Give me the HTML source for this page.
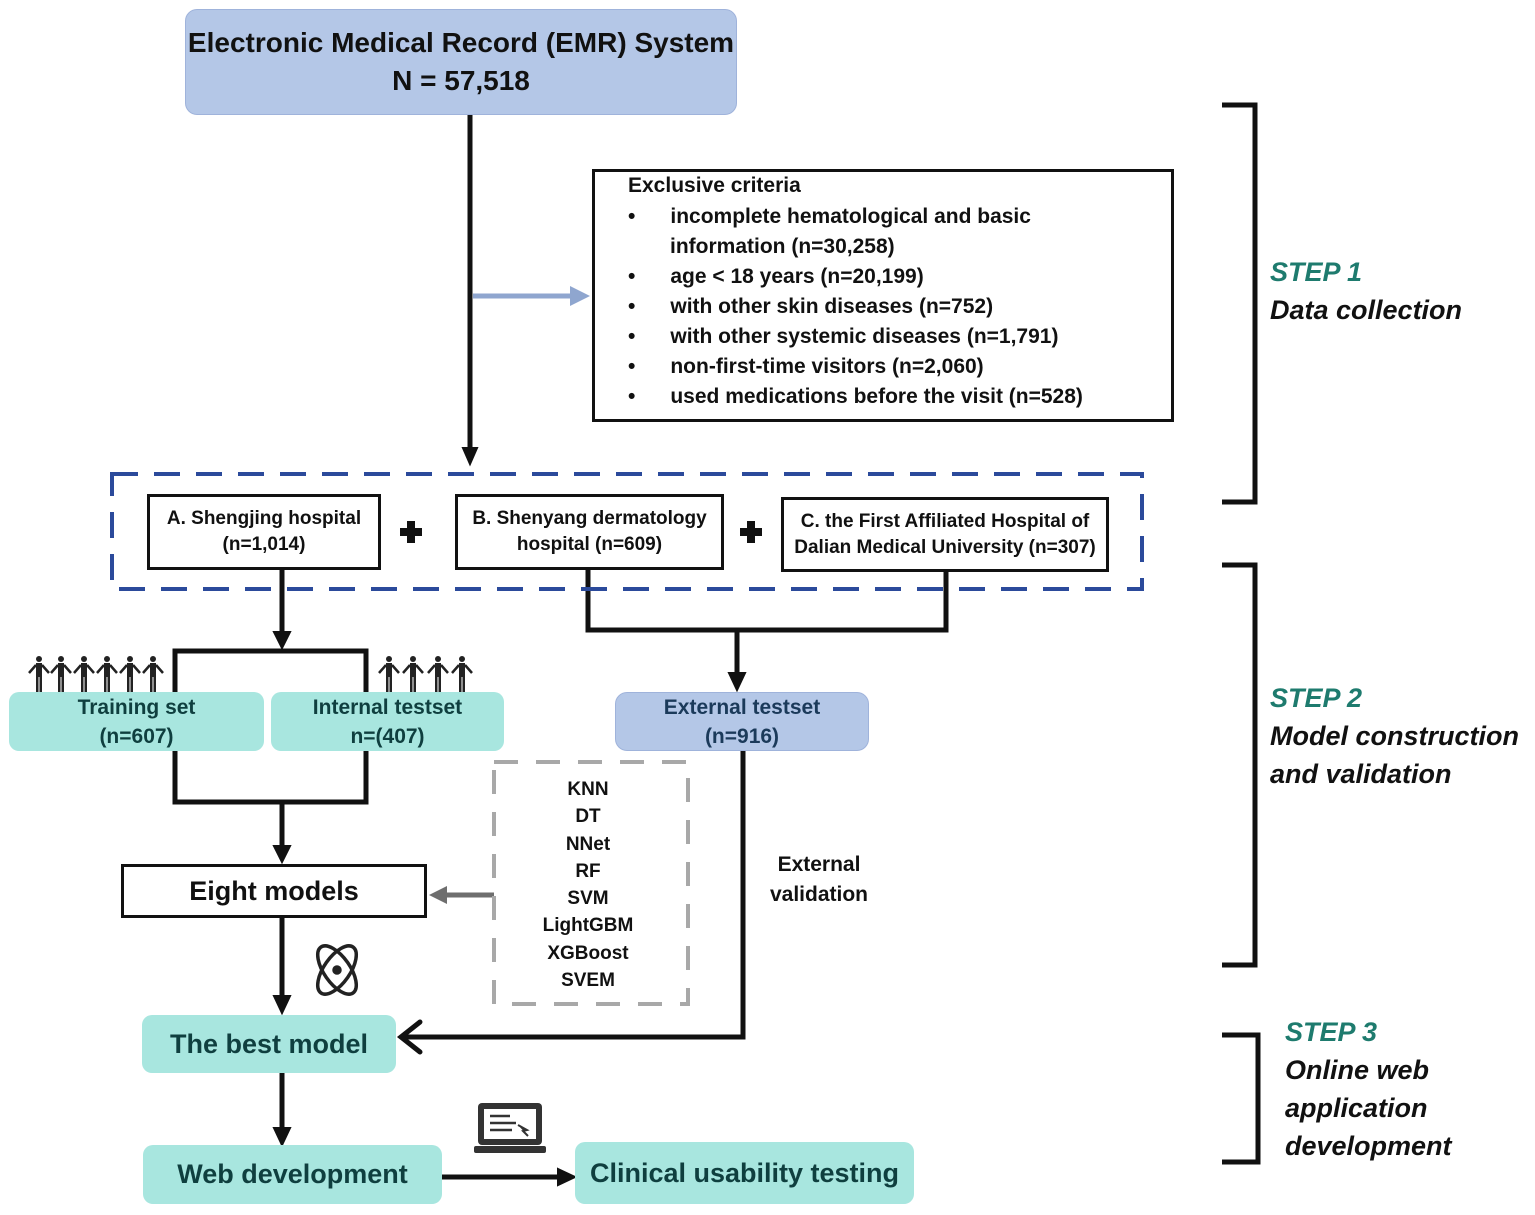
<!DOCTYPE html>
<html><head><meta charset="utf-8"><style>
body{margin:0;width:1535px;height:1215px;background:#fff;position:relative;overflow:hidden;font-family:"Liberation Sans","DejaVu Sans",sans-serif;color:#111}
.b{position:absolute;box-sizing:border-box;display:flex;flex-direction:column;align-items:center;justify-content:center;text-align:center;font-weight:bold}
.t{position:absolute;white-space:nowrap;font-weight:bold}
.teal{background:#a8e6df;border-radius:10px;color:#0f3f3f}
.blue{background:#b4c7e7;border-radius:12px;border:1px solid #9fb3db}
.blk{border:3px solid #111;background:#fff}
.step{position:absolute;color:#1e7b6e;font-style:italic;font-weight:bold;font-size:27px;line-height:38px}
.step span{color:#111}
</style></head><body>
<svg width="1535" height="1215" style="position:absolute;left:0;top:0">
<defs>
<g id="p" fill="#222" stroke="#222">
<circle cx="0" cy="0" r="3" stroke="none"/>
<rect x="-3" y="4" width="6" height="14" stroke="none"/>
<rect x="-3" y="16" width="2.5" height="17" stroke="none"/><rect x="0.5" y="16" width="2.5" height="17" stroke="none"/>
<path d="M-3,6 L-10,14 M3,6 L10,14" stroke-width="2.5" fill="none"/>
</g>
</defs>
<g stroke="#111" stroke-width="5" fill="none">
<line x1="470" y1="115" x2="470" y2="450"/>
<path d="M463,448 L470,464 L477,448z" fill="#111" stroke-width="2"/>
<line x1="282" y1="569" x2="282" y2="634"/>
<path d="M274,632 L282,648 L290,632z" fill="#111" stroke-width="2"/>
<polyline points="175,692 175,651 366,651 366,692"/>
<polyline points="588,569 588,630 946,630 946,571"/>
<line x1="737" y1="630" x2="737" y2="675"/>
<path d="M729,673 L737,690 L745,673z" fill="#111" stroke-width="2"/>
<polyline points="175,751 175,802 366,802 366,751"/>
<line x1="282" y1="802" x2="282" y2="848"/>
<path d="M274,846 L282,862 L290,846z" fill="#111" stroke-width="2"/>
<line x1="282" y1="917" x2="282" y2="998"/>
<path d="M274,996 L282,1013 L290,996z" fill="#111" stroke-width="2"/>
<line x1="282" y1="1073" x2="282" y2="1130"/>
<path d="M274,1128 L282,1145 L290,1128z" fill="#111" stroke-width="2"/>
<polyline points="743,751 743,1037 402,1037"/>
<polyline points="420,1022 401,1037 420,1052" stroke-linecap="round"/>
<line x1="442" y1="1177" x2="560" y2="1177"/>
<path d="M558,1169 L575,1177 L558,1185z" fill="#111" stroke-width="2"/>
<polyline points="1222,105 1255,105 1255,502 1222,502"/>
<polyline points="1222,565 1255,565 1255,965 1222,965"/>
<polyline points="1222,1035 1258,1035 1258,1162 1222,1162"/>
</g>
<line x1="473" y1="296" x2="572" y2="296" stroke="#8fa6cf" stroke-width="5"/>
<path d="M570,286 L590,296 L570,306z" fill="#8fa6cf"/>
<line x1="494" y1="895" x2="445" y2="895" stroke="#6e6e6e" stroke-width="5"/>
<path d="M447,886 L429,895 L447,904z" fill="#6e6e6e"/>
<rect x="112" y="474" width="1030" height="115" fill="none" stroke="#2b4a9b" stroke-width="4" stroke-dasharray="26,16"/>
<rect x="494" y="762" width="194" height="242" fill="none" stroke="#a8a8a8" stroke-width="4" stroke-dasharray="24,18"/>
<g fill="#111">
<rect x="400" y="528" width="22" height="8"/><rect x="407" y="521" width="8" height="22"/>
<rect x="740" y="528" width="22" height="8"/><rect x="747" y="521" width="8" height="22"/>
</g>
<use href="#p" x="39" y="659"/><use href="#p" x="61" y="659"/><use href="#p" x="84" y="659"/><use href="#p" x="107" y="659"/><use href="#p" x="130" y="659"/><use href="#p" x="153" y="659"/>
<use href="#p" x="389" y="659"/><use href="#p" x="413" y="659"/><use href="#p" x="438" y="659"/><use href="#p" x="462" y="659"/>
<g transform="translate(337,970)" fill="none" stroke="#222" stroke-width="3.5">
<ellipse rx="28" ry="13" transform="rotate(-55)"/><ellipse rx="28" ry="13" transform="rotate(55)"/>
<circle r="3" fill="#222"/>
</g>
<g transform="translate(474,1103)">
<rect x="4" y="0" width="64" height="42" rx="4" fill="#333"/><rect x="10" y="6" width="52" height="30" fill="#fff"/>
<path d="M16,13 H36 M16,20 H42 M16,27 H38" stroke="#333" stroke-width="2.5"/>
<path d="M44,22 L53,27 L49,28 L54,33" stroke="#333" stroke-width="2" fill="#333"/>
<rect x="0" y="43" width="72" height="7" rx="2" fill="#333"/>
</g>
</svg>

<div class="b blue" style="left:185px;top:9px;width:552px;height:106px;font-size:28px;line-height:38px"><div>Electronic Medical Record (EMR) System</div><div>N = 57,518</div></div>

<div class="b blk" style="left:592px;top:169px;width:582px;height:253px"></div>
<div class="t" style="left:628px;top:174px;font-size:21px">Exclusive criteria</div>
<div style="position:absolute;left:628px;top:202px;font-size:21px;font-weight:bold;line-height:30px;white-space:nowrap">
<div>•&nbsp;&nbsp;&nbsp;&nbsp;&nbsp;&nbsp;incomplete hematological and basic</div>
<div style="padding-left:42px">information (n=30,258)</div>
<div>•&nbsp;&nbsp;&nbsp;&nbsp;&nbsp;&nbsp;age &lt; 18 years (n=20,199)</div>
<div>•&nbsp;&nbsp;&nbsp;&nbsp;&nbsp;&nbsp;with other skin diseases (n=752)</div>
<div>•&nbsp;&nbsp;&nbsp;&nbsp;&nbsp;&nbsp;with other systemic diseases (n=1,791)</div>
<div>•&nbsp;&nbsp;&nbsp;&nbsp;&nbsp;&nbsp;non-first-time visitors (n=2,060)</div>
<div>•&nbsp;&nbsp;&nbsp;&nbsp;&nbsp;&nbsp;used medications before the visit (n=528)</div>
</div>

<div class="b blk" style="left:147px;top:494px;width:234px;height:76px;font-size:19px;line-height:26px"><div>A. Shengjing hospital</div><div>(n=1,014)</div></div>
<div class="b blk" style="left:455px;top:494px;width:269px;height:76px;font-size:19px;line-height:26px"><div>B. Shenyang dermatology</div><div>hospital (n=609)</div></div>
<div class="b blk" style="left:781px;top:497px;width:328px;height:75px;font-size:19px;line-height:26px"><div>C. the First Affiliated Hospital of</div><div>Dalian Medical University (n=307)</div></div>

<div class="b teal" style="left:9px;top:692px;width:255px;height:59px;font-size:21px;line-height:29px"><div>Training set</div><div>(n=607)</div></div>
<div class="b teal" style="left:271px;top:692px;width:233px;height:59px;font-size:21px;line-height:29px"><div>Internal testset</div><div>n=(407)</div></div>
<div class="b blue" style="left:615px;top:692px;width:254px;height:59px;font-size:21px;line-height:29px;color:#1b3a5a"><div>External testset</div><div>(n=916)</div></div>

<div style="position:absolute;left:494px;top:776px;width:188px;text-align:center;font-weight:bold;font-size:19px;line-height:27.3px">KNN<br>DT<br>NNet<br>RF<br>SVM<br>LightGBM<br>XGBoost<br>SVEM</div>

<div class="b blk" style="left:121px;top:864px;width:306px;height:54px;font-size:27px">Eight models</div>
<div style="position:absolute;left:755px;top:850px;width:128px;text-align:center;font-weight:bold;font-size:21px;line-height:30px">External<br>validation</div>

<div class="b teal" style="left:142px;top:1015px;width:254px;height:58px;font-size:27px">The best model</div>
<div class="b teal" style="left:143px;top:1145px;width:299px;height:59px;font-size:27px">Web development</div>
<div class="b teal" style="left:575px;top:1142px;width:339px;height:62px;font-size:27px">Clinical usability testing</div>

<div class="step" style="left:1270px;top:253px">STEP 1<br><span>Data collection</span></div>
<div class="step" style="left:1270px;top:679px">STEP 2<br><span>Model construction<br>and validation</span></div>
<div class="step" style="left:1285px;top:1013px">STEP 3<br><span>Online web<br>application<br>development</span></div>
</body></html>
